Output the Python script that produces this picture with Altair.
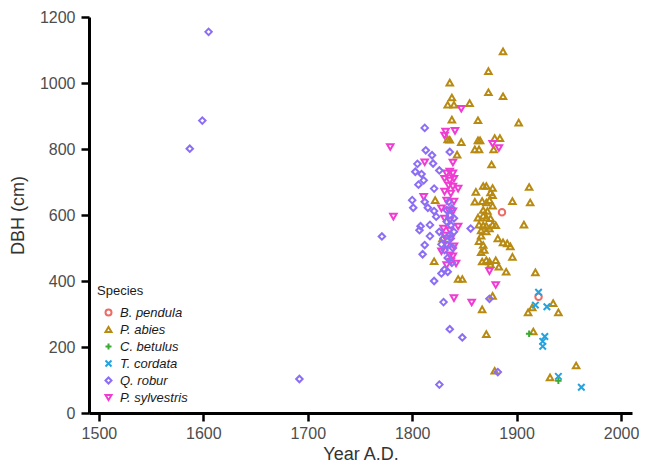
import altair as alt
import pandas as pd

species = ["B. pendula", "P. abies", "C. betulus", "T. cordata", "Q. robur", "P. sylvestris"]
colors = ["#F06A64", "#B88A12", "#3AAA35", "#23A3E0", "#8C6EF5", "#F03CD2"]
shapes = ["circle", "triangle-up", "M-1,0H1M0,-1V1", "M-1,-1L1,1M-1,1L1,-1", "diamond", "triangle-down"]

x_ticks = [1500, 1600, 1700, 1800, 1900, 2000]
y_ticks = [0, 200, 400, 600, 800, 1000, 1200]

b_pendula = [(1886, 608), (1921, 352)]
c_betulus = [(1912, 240), (1940, 98)]
t_cordata = [(1921, 366), (1918, 327), (1929, 322), (1927, 232), (1925, 217),
             (1925, 202), (1940, 111), (1962, 78)]
p_abies = [(1887, 1096), (1873, 1036), (1836, 1001), (1873, 972), (1887, 960), (1838, 956),
           (1834, 934), (1840, 934), (1855, 939), (1838, 889), (1863, 887), (1902, 880),
           (1834, 829), (1836, 828), (1847, 821), (1863, 826), (1865, 826), (1879, 833),
           (1884, 833), (1860, 799), (1864, 799), (1878, 799), (1843, 783), (1876, 753),
           (1868, 688), (1871, 688), (1877, 682), (1912, 685), (1861, 670), (1875, 668),
           (1877, 660), (1896, 642), (1913, 638), (1860, 640), (1867, 642), (1871, 638),
           (1874, 645), (1877, 628), (1868, 615), (1872, 612), (1822, 645), (1863, 592),
           (1868, 598), (1871, 592), (1875, 590), (1864, 571), (1868, 569), (1871, 567),
           (1877, 571), (1880, 569), (1907, 571), (1866, 553), (1871, 550), (1874, 559),
           (1866, 537), (1864, 521), (1882, 529), (1887, 517), (1891, 514), (1894, 505),
           (1868, 509), (1869, 494), (1866, 487), (1896, 473), (1871, 463), (1874, 459),
           (1880, 463), (1867, 459), (1875, 450), (1883, 443), (1890, 428), (1918, 426),
           (1821, 460), (1844, 406), (1848, 406), (1867, 314), (1871, 239), (1879, 128),
           (1911, 305), (1915, 320), (1935, 333), (1940, 305), (1916, 247), (1932, 108),
           (1957, 144), (1877, 355), (1829, 529)]
q_robur = [(1605, 1155), (1599, 886), (1587, 801), (1692, 103), (1771, 535), (1826, 86),
           (1810, 481), (1821, 400), (1830, 336), (1836, 254), (1848, 229), (1882, 124),
           (1874, 346), (1831, 435), (1828, 423), (1834, 428), (1812, 864), (1813, 796),
           (1819, 781), (1836, 791), (1805, 755), (1820, 756), (1826, 735), (1803, 731),
           (1809, 724), (1811, 705), (1806, 692), (1821, 680), (1800, 645), (1801, 622),
           (1812, 640), (1815, 622), (1821, 612), (1823, 595), (1817, 570), (1808, 566),
           (1807, 554), (1817, 536), (1812, 509), (1826, 549), (1830, 529), (1834, 509),
           (1837, 569), (1836, 599), (1833, 615), (1837, 529), (1840, 549), (1828, 511),
           (1831, 494), (1856, 559), (1835, 640), (1838, 620), (1833, 580), (1840, 590),
           (1836, 540), (1839, 500), (1834, 470), (1838, 455)]
p_sylvestris = [(1847, 922), (1832, 853), (1841, 855), (1831, 841), (1877, 816), (1883, 803),
                (1779, 806), (1782, 595), (1839, 759), (1812, 760), (1811, 655), (1833, 726),
                (1836, 732), (1839, 726), (1831, 710), (1836, 704), (1840, 710), (1835, 689),
                (1839, 686), (1844, 680), (1831, 671), (1837, 665), (1833, 644), (1840, 641),
                (1828, 620), (1835, 614), (1839, 611), (1831, 589), (1836, 583), (1830, 559),
                (1836, 553), (1844, 565), (1831, 538), (1837, 529), (1833, 508), (1840, 505),
                (1828, 490), (1836, 478), (1839, 475), (1837, 459), (1833, 448), (1842, 453),
                (1874, 430), (1880, 388), (1840, 348), (1857, 335)]

groups = [("P. abies", p_abies), ("P. sylvestris", p_sylvestris), ("Q. robur", q_robur),
          ("B. pendula", b_pendula), ("C. betulus", c_betulus), ("T. cordata", t_cordata)]
rows = []
for name, pts in groups:
    for yr, d in pts:
        rows.append({"year": yr, "dbh": d, "species": name})
df = pd.DataFrame(rows)
df["ord"] = range(len(df))

legend = alt.Legend(orient="none", legendX=8, legendY=268, title="Species",
                    titleFontSize=13, titleFontWeight="normal", titleColor="#1a1a1a",
                    titleFont="Liberation Sans", labelFont="Liberation Sans",
                    labelFontSize=13, labelFontStyle="italic", labelColor="#1a1a1a",
                    symbolSize=36, symbolStrokeWidth=2, rowPadding=2, titlePadding=8,
                    labelOffset=5, symbolOffset=5)

chart = alt.Chart(df).mark_point(filled=False, strokeWidth=2, size=42, opacity=1).encode(
    x=alt.X("year:Q", scale=alt.Scale(domain=[1490.5, 2010.5], nice=False, zero=False),
            axis=alt.Axis(values=x_ticks, title="Year A.D.", format="d")),
    y=alt.Y("dbh:Q", scale=alt.Scale(domain=[0, 1200], nice=False),
            axis=alt.Axis(values=y_ticks, title="DBH (cm)", format="d")),
    color=alt.Color("species:N", scale=alt.Scale(domain=species, range=colors), legend=legend),
    shape=alt.Shape("species:N", scale=alt.Scale(domain=species, range=shapes), legend=legend),
    order=alt.Order("ord:Q"),
).properties(
    width=543, height=396, autosize="none",
    padding={"left": 81, "top": 9, "right": 7, "bottom": 52},
).configure_view(stroke=None).configure_axis(
    domainColor="black", domainWidth=3, tickColor="black", tickWidth=2.5, tickSize=8,
    labelColor="#4d4d4d", labelFont="Liberation Sans", labelFontSize=16,
    titleColor="#333333", titleFont="Liberation Sans", titleFontSize=18,
    titleFontWeight="normal", grid=False, labelPadding=6,
).configure_axisY(titlePadding=12).configure_axisX(titlePadding=4, labelPadding=4)

chart.save("out.html", embed_options={"renderer": "svg", "actions": False})
